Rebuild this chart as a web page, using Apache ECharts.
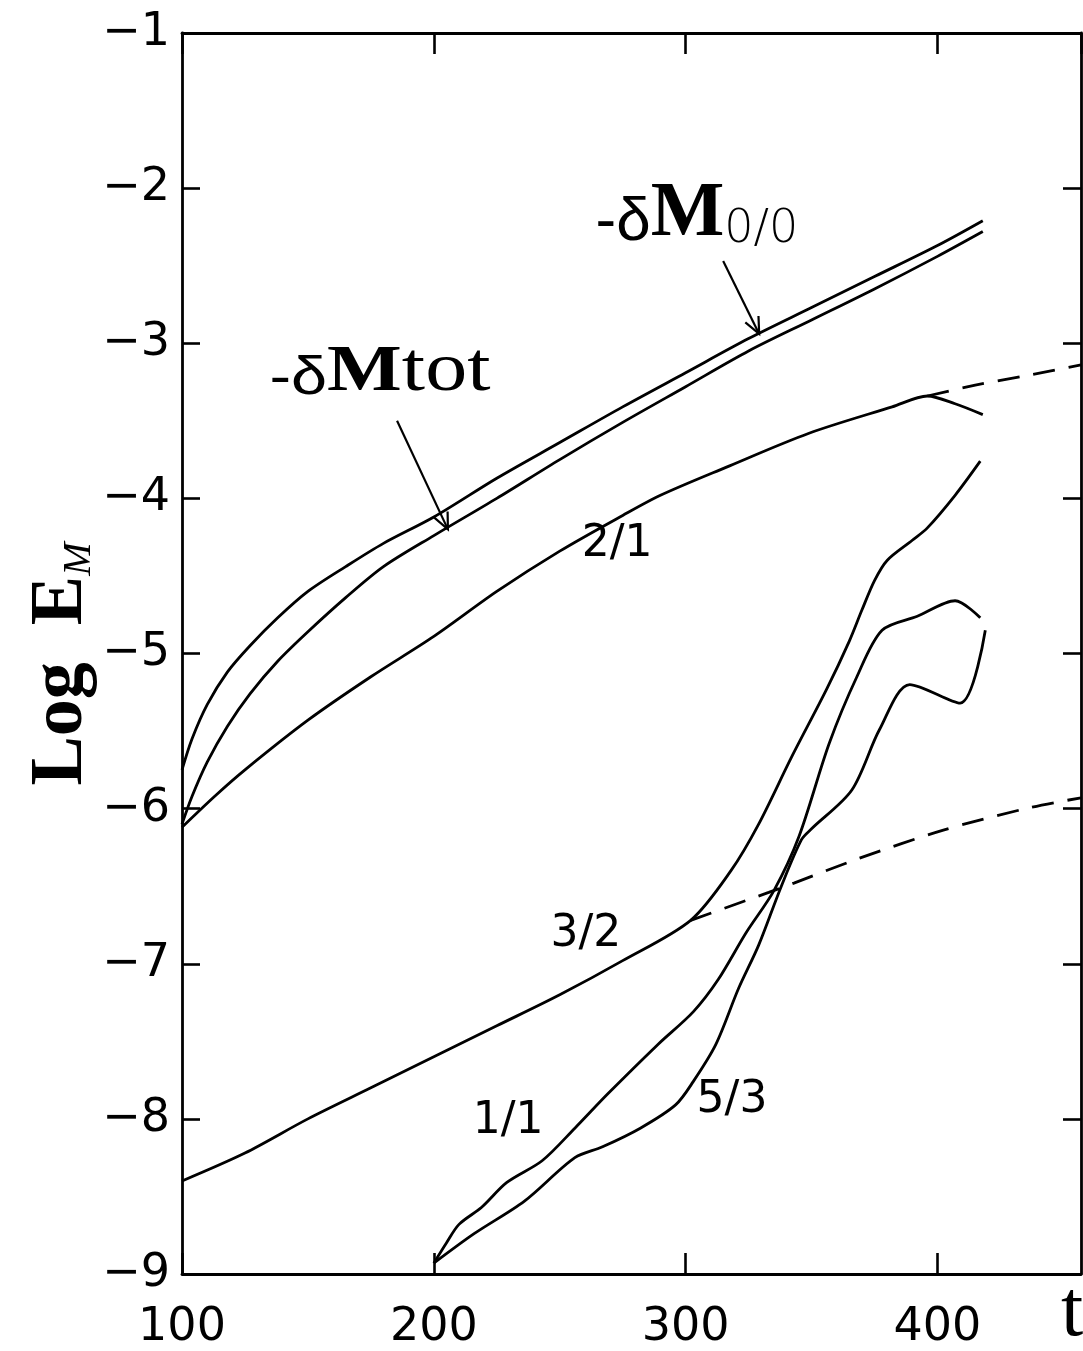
<!DOCTYPE html>
<html>
<head>
<meta charset="utf-8">
<script src="https://cdn.jsdelivr.net/npm/echarts@6/dist/echarts.min.js"></script>
<style>
html,body{margin:0;padding:0;background:#fff;}
#c{width:1083px;height:1351px;}
</style>
</head>
<body>
<div id="c"></div>
<script>
// ---------- data (t, log E_M) ----------
const xTickValues = [100, 200, 300, 400];
const yTickValues = [-9, -8, -7, -6, -5, -4, -3, -2, -1];

const dM00 = [[100,-5.75],[104,-5.55],[110,-5.33],[118,-5.12],[127,-4.95],[138,-4.77],[150,-4.60],[165,-4.44],[180,-4.29],[200,-4.12],[225,-3.87],[250,-3.64],[275,-3.41],[300,-3.19],[325,-2.97],[350,-2.77],[375,-2.57],[400,-2.37],[418,-2.21]];
const dMtot = [[100,-6.10],[104,-5.92],[110,-5.70],[118,-5.47],[127,-5.26],[138,-5.05],[150,-4.86],[165,-4.64],[180,-4.44],[200,-4.24],[225,-4.00],[250,-3.75],[275,-3.51],[300,-3.28],[325,-3.05],[350,-2.85],[375,-2.65],[400,-2.44],[418,-2.28]];
const m21 = [[100,-6.12],[113,-5.92],[125,-5.75],[150,-5.43],[175,-5.15],[200,-4.89],[225,-4.60],[250,-4.34],[275,-4.11],[290,-3.98],[316,-3.80],[349,-3.58],[382,-3.41],[396,-3.34],[407,-3.39],[418,-3.46]];
const m21ext = [[396,-3.34],[415,-3.27],[435,-3.21],[457,-3.14]];
const m32 = [[100,-8.40],[125,-8.22],[150,-8.00],[175,-7.80],[200,-7.60],[225,-7.40],[250,-7.20],[275,-6.98],[302,-6.72],[318,-6.40],[329,-6.10],[342,-5.67],[356,-5.23],[365,-4.92],[370,-4.72],[375,-4.53],[380,-4.40],[390,-4.27],[396,-4.19],[407,-3.98],[417,-3.76]];
const m32ext = [[302,-6.72],[333,-6.54],[343,-6.48],[369,-6.32],[402,-6.14],[435,-6.00],[457,-5.93]];
const m11 = [[200,-8.93],[205,-8.80],[210,-8.68],[219,-8.57],[229,-8.41],[243,-8.27],[256,-8.06],[269,-7.84],[289,-7.52],[303,-7.31],[313,-7.10],[324,-6.80],[335,-6.53],[345,-6.18],[357,-5.58],[368,-5.15],[378,-4.85],[392,-4.76],[407,-4.66],[417,-4.77]];
const m53 = [[200,-8.93],[216,-8.74],[236,-8.53],[256,-8.25],[267,-8.18],[282,-8.06],[296,-7.91],[303,-7.76],[312,-7.52],[321,-7.16],[329,-6.88],[338,-6.50],[346,-6.20],[350,-6.13],[366,-5.88],[377,-5.49],[389,-5.20],[409,-5.32],[419,-4.85]];

// annotation text and anchors (data units)
const modeLabels = ['2/1', '3/2', '1/1', '5/3'];
const modeLabelT = [272.8, 260.4, 229.5, 318.4];
const modeLabelV = [-4.30, -6.81, -8.02, -7.88];
const totLabelPos = [178.6, -3.18];
const m00LabelPos = [304.5, -2.17];
const arrowTot = [[185.4, -3.50], [205.6, -4.20]];
const arrowM00 = [[314.9, -2.47], [329.2, -2.94]];
const tLabelPos = [453.5, -9.26];

// ---------- chart ----------
const chart = echarts.init(document.getElementById('c'), null, {renderer: 'canvas'});
const axisLine = {show: true, onZero: false, lineStyle: {color: '#000', width: 2.8}};
const tickStyle = {color: '#000', width: 2.6};

function lineSeries(data, dashed) {
  return {
    type: 'line', data: data, showSymbol: false, symbol: 'none', smooth: 0.3,
    silent: true, z: 3,
    lineStyle: {color: '#000', width: 2.8, type: dashed ? [22, 14] : 'solid'}
  };
}

chart.setOption({
  animation: false,
  backgroundColor: '#fff',
  grid: {left: 182, right: 2, top: 33, bottom: 71, containLabel: false},
  xAxis: [
    {type: 'value', min: 100, max: 457, interval: 100, position: 'bottom',
     axisLine: axisLine,
     axisTick: {show: true, inside: true, length: 21, lineStyle: tickStyle},
     axisLabel: {show: true, color: '#000', fontSize: 46, fontFamily: 'DejaVu Sans', margin: 31,
                 showMaxLabel: false,
                 formatter: v => xTickValues.includes(v) ? String(v) : ''},
     splitLine: {show: false}},
    {type: 'value', min: 100, max: 457, interval: 100, position: 'top',
     axisLine: axisLine,
     axisTick: {show: true, inside: true, length: 21, lineStyle: tickStyle},
     axisLabel: {show: false}, splitLine: {show: false}}
  ],
  yAxis: [
    {type: 'value', min: -9, max: -1, interval: 1, position: 'left',
     axisLine: axisLine,
     axisTick: {show: true, inside: true, length: 18, lineStyle: tickStyle},
     axisLabel: {show: true, color: '#000', fontSize: 46, fontFamily: 'DejaVu Sans', margin: 12,
                 formatter: v => yTickValues.includes(v) ? '\u2212' + Math.abs(v) : ''},
     splitLine: {show: false}},
    {type: 'value', min: -9, max: -1, interval: 1, position: 'right',
     axisLine: axisLine,
     axisTick: {show: true, inside: true, length: 18, lineStyle: tickStyle},
     axisLabel: {show: false}, splitLine: {show: false}}
  ],
  series: [
    lineSeries(dM00, false),
    lineSeries(dMtot, false),
    lineSeries(m21, false),
    lineSeries(m21ext, true),
    lineSeries(m32, false),
    lineSeries(m32ext, true),
    lineSeries(m11, false),
    lineSeries(m53, false)
  ]
});

// ---------- annotations placed through the axes' scales ----------
const px = p => chart.convertToPixel({gridIndex: 0}, p);

function textEl(pos, text, style, extra) {
  const p = px(pos);
  return Object.assign({
    type: 'text', x: p[0], y: p[1], z: 10, silent: true,
    style: Object.assign({text: text, fill: '#000', align: 'center', verticalAlign: 'middle',
                          textAlign: 'center', textVerticalAlign: 'middle'}, style)
  }, extra || {});
}

function arrowEls(a0, a1) {
  const a = px(a0), b = px(a1);
  const ang = Math.atan2(b[1] - a[1], b[0] - a[0]);
  const L = 18, sp = 0.42;
  const h1 = [b[0] - L * Math.cos(ang - sp), b[1] - L * Math.sin(ang - sp)];
  const h2 = [b[0] - L * Math.cos(ang + sp), b[1] - L * Math.sin(ang + sp)];
  return [
    {type: 'line', z: 10, silent: true, shape: {x1: a[0], y1: a[1], x2: b[0], y2: b[1]}, style: {stroke: '#000', lineWidth: 2.2}},
    {type: 'polyline', z: 10, silent: true, shape: {points: [h1, b, h2]}, style: {stroke: '#000', lineWidth: 2.2, fill: null}}
  ];
}

const graphics = [];
modeLabels.forEach((lab, i) => {
  graphics.push(textEl([modeLabelT[i], modeLabelV[i]], lab, {fontSize: 44, fontFamily: 'DejaVu Sans'}));
});
graphics.push(textEl(totLabelPos, '{d|-\u03b4}{m|M}{t|tot}', {
  rich: {
    d: {fontFamily: 'Liberation Sans', fontSize: 54, verticalAlign: 'bottom'},
    m: {fontFamily: 'Liberation Serif', fontWeight: 'bold', fontSize: 66, verticalAlign: 'bottom'},
    t: {fontFamily: 'Liberation Serif', fontSize: 70, verticalAlign: 'bottom'}
  }
}, {scaleX: 1.2}));
graphics.push(textEl(m00LabelPos, '{d|-\u03b4}{m|M}{s|0/0}', {
  rich: {
    d: {fontFamily: 'Liberation Sans', fontSize: 62, verticalAlign: 'bottom'},
    m: {fontFamily: 'Liberation Serif', fontWeight: 'bold', fontSize: 78, verticalAlign: 'bottom'},
    s: {fontFamily: 'DejaVu Sans', fontWeight: 300, fontSize: 46, verticalAlign: 'bottom'}
  }
}));
graphics.push(textEl(tLabelPos, 't', {fontFamily: 'Liberation Serif', fontSize: 80}));
arrowEls(arrowTot[0], arrowTot[1]).forEach(e => graphics.push(e));
arrowEls(arrowM00[0], arrowM00[1]).forEach(e => graphics.push(e));

// y-axis title, rotated, left of the axis
graphics.push({
  type: 'text', x: 62, y: 664, rotation: Math.PI / 2, z: 10, silent: true,
  style: {
    text: '{a|Log  E}{b|M}', fill: '#000', align: 'center', verticalAlign: 'middle',
    textAlign: 'center', textVerticalAlign: 'middle',
    rich: {
      a: {fontFamily: 'Liberation Serif', fontWeight: 'bold', fontSize: 74, verticalAlign: 'bottom'},
      b: {fontFamily: 'Liberation Serif', fontStyle: 'italic', fontSize: 40, verticalAlign: 'bottom'}
    }
  }
});

chart.setOption({graphic: {elements: graphics}});
</script>
</body>
</html>
